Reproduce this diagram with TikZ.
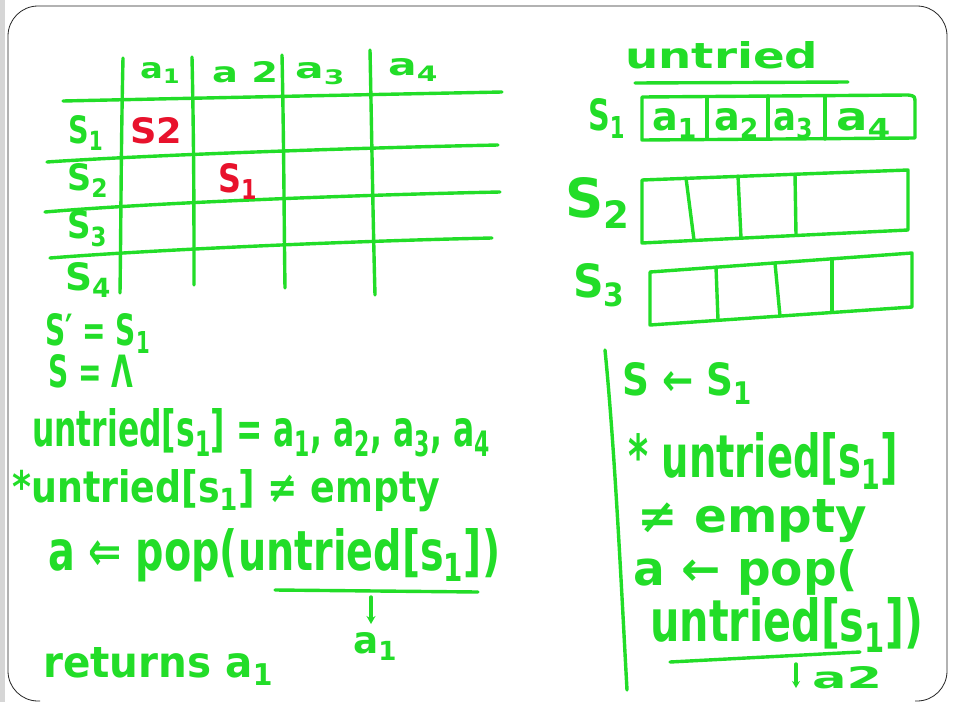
\documentclass[tikz,border=0pt]{standalone}
\usepackage{fontspec}
\usepackage{graphicx}
\setmainfont{DejaVu Sans}
\usetikzlibrary{arrows.meta}
\definecolor{pen}{RGB}{34,221,40}
\definecolor{redpen}{RGB}{232,18,44}
\definecolor{edgegray}{RGB}{214,214,214}
\newcommand\fwh[3]{\resizebox{#1pt}{#2pt}{#3}}
\newcommand\lowi[1]{\textsubscript{#1}}
\begin{document}
\begin{tikzpicture}[x=1pt,y=-1pt,
  hw/.style={text=pen,inner sep=0pt,anchor=base west,font=\fontsize{28}{30}\selectfont\bfseries},
  rd/.style={hw,text=redpen},
  stroke/.style={draw=pen,line width=3.4pt,line cap=round,line join=round},
  frame/.style={draw=black!85,line width=0.8pt}]
\useasboundingbox (0,0) rectangle (953,702);
\fill[white] (0,0) rectangle (953,702);
% left gray edge
\fill[edgegray] (0,0) rectangle (5,702);
\draw[frame,rounded corners=30] (40,701) -- (8,701) -- (8,6) -- (947,6) -- (947,701) -- (915,701);
% ---------------- table ----------------
\draw[stroke] (63,101) .. controls (200,98) and (400,94) .. (502,92);
\draw[stroke] (47,162) .. controls (150,155) and (350,148) .. (498,145);
\draw[stroke] (45,212) .. controls (150,203) and (350,195) .. (500,192);
\draw[stroke] (50,258) .. controls (150,250) and (350,241) .. (492,238);
\draw[stroke] (123,58) .. controls (121,150) and (121,220) .. (120,293);
\draw[stroke] (192,57) .. controls (194,150) and (194,220) .. (194,285);
\draw[stroke] (282,55) .. controls (284,150) and (284,220) .. (285,288);
\draw[stroke] (370,50) .. controls (372,150) and (373,220) .. (375,295);
\node[hw] (ta1) at (140,78) {\fwh{40}{16}{a\lowi{1}}};
\node[hw] (ta2) at (212,82) {\fwh{66}{21}{a 2}};
\node[hw] (ta3) at (295,78) {\fwh{50}{16}{a\lowi{3}}};
\node[hw] (ta4) at (388,75) {\fwh{50}{17}{a\lowi{4}}};
\node[hw] (ts1) at (68,143) {\fwh{35}{28}{S\lowi{1}}};
\node[hw] (ts2) at (67,190) {\fwh{41}{27}{S\lowi{2}}};
\node[hw] (ts3) at (67,238) {\fwh{40}{28}{S\lowi{3}}};
\node[hw] (ts4) at (65,290) {\fwh{46}{28}{S\lowi{4}}};
\node[rd] (r1) at (130,143) {\fwh{52}{26}{S2}};
\node[rd] (r2) at (218,192) {\fwh{39}{29}{S\lowi{1}}};
% ---------------- untried lists ----------------
\node[hw] (untr) at (625,68) {\fwh{193}{27}{untried}};
\draw[stroke] (635,83) -- (848,82);
\node[hw] (u1) at (588,130) {\fwh{37}{32}{S\lowi{1}}};
\node[hw] (u2) at (565,217) {\fwh{65}{40}{S\lowi{2}}};
\node[hw] (u3) at (573,297) {\fwh{52}{34}{S\lowi{3}}};
\draw[stroke] (642,97) -- (908,95) .. controls (915,96) .. (915,104) -- (915,138) -- (642,140) -- cycle;
\draw[stroke] (707,97) -- (707,139);
\draw[stroke] (768,96) -- (768,139);
\draw[stroke] (825,96) -- (825,139);
\node[hw] (b1) at (652,130) {\fwh{45}{22}{a\lowi{1}}};
\node[hw] (b2) at (714,130) {\fwh{45}{22}{a\lowi{2}}};
\node[hw] (b3) at (773,130) {\fwh{40}{22}{a\lowi{3}}};
\node[hw] (b4) at (836,130) {\fwh{55}{22}{a\lowi{4}}};
\draw[stroke] (642,180) -- (908,170) -- (908,230) -- (642,243) -- cycle;
\draw[stroke] (686,178) -- (694,240);
\draw[stroke] (738,176) -- (741,238);
\draw[stroke] (795,174) -- (796,235);
\draw[stroke] (650,272) -- (912,253) -- (912,307) -- (650,325) -- cycle;
\draw[stroke] (716,267) -- (718,320);
\draw[stroke] (775,263) -- (780,316);
\draw[stroke] (832,259) -- (832,312);
% ---------------- left pseudo-code ----------------
\node[hw] (l1) at (45,345) {\fwh{105}{32}{S′ = S\lowi{1}}};
\node[hw] (l2) at (48,387) {\fwh{85}{33}{S = Λ}};
\node[hw] (l3) at (32,446) {\fwh{458}{38}{untried[s\lowi{1}] = a\lowi{1}, a\lowi{2}, a\lowi{3}, a\lowi{4}}};
\node[hw] (l4) at (12,502) {\fwh{428}{33}{*untried[s\lowi{1}] ≠ empty}};
\node[hw] (l5) at (48,570) {\fwh{452}{42}{a ⇐ pop(untried[s\lowi{1}])}};
\coordinate (ul1a) at (275,590);
\coordinate (ul1b) at (478,592);
\draw[stroke] (ul1a) -- (ul1b);
\node[hw] (l6) at (353,653) {\fwh{44}{21}{a\lowi{1}}};
\coordinate (ar1) at (371,597);
\coordinate (ar1e) at (371,624);
\draw[stroke,-{Stealth[length=8pt,width=9pt]}] (ar1) -- (ar1e);
\node[hw] (l7) at (43,677) {\fwh{230}{30}{returns a\lowi{1}}};
% ---------------- right pseudo-code ----------------
\coordinate (vt) at (605,350);
\coordinate (vb) at (627,690);
\draw[stroke] (vt) .. controls (615,450) and (622,600) .. (vb);
\node[hw] (r1l) at (622,395) {\fwh{130}{33}{S ← S\lowi{1}}};
\node[hw] (r2l) at (628,477) {\fwh{270}{45}{* untried[s\lowi{1}]}};
\node[hw] (r3l) at (637,532) {\fwh{230}{33}{≠ empty}};
\node[hw] (r4l) at (633,585) {\fwh{225}{36}{a ← pop(}};
\node[hw] (r5l) at (650,641) {\fwh{273}{44}{untried[s\lowi{1}])}};
\draw[stroke] (670,662) -- (860,652);
\node[hw] (r6l) at (812,688) {\fwh{70}{22}{a2}};
\coordinate (ar2) at (796,664);
\coordinate (ar2e) at (796,688);
\draw[stroke,-{Stealth[length=7pt,width=8pt]}] (ar2) -- (ar2e);
\end{tikzpicture}
\end{document}
